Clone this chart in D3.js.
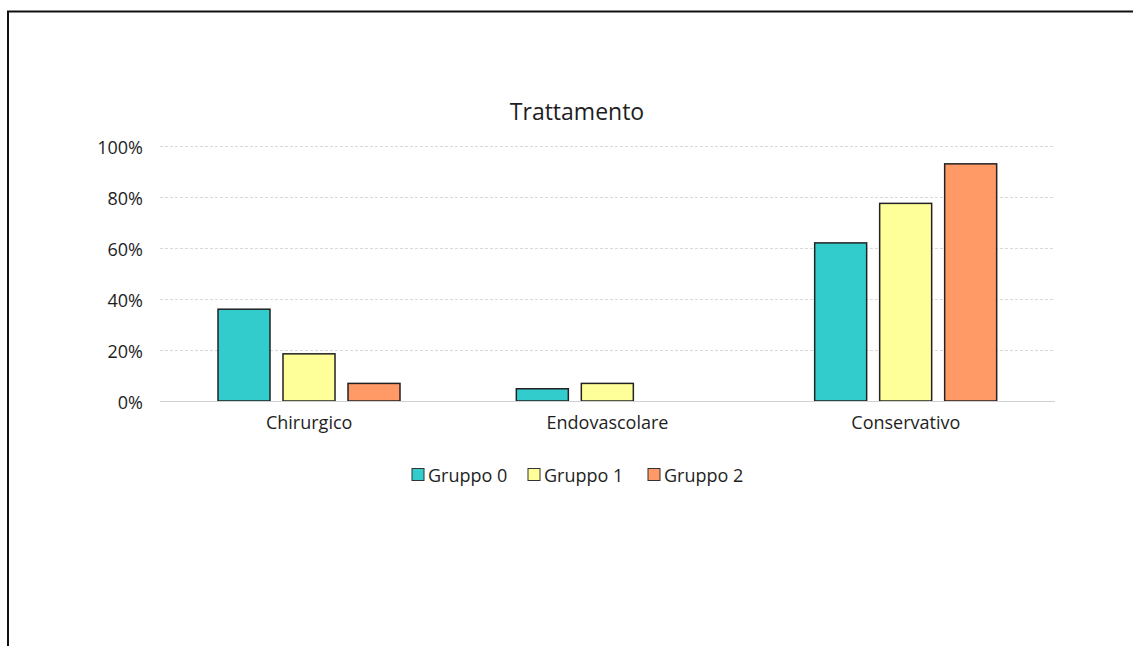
<!DOCTYPE html>
<html>
<head>
<meta charset="utf-8">
<script src="https://cdn.jsdelivr.net/npm/d3@7"></script>
<style>
  html, body { margin: 0; padding: 0; background: #fff; }
  svg { display: block; font-family: "Open Sans", Lato, sans-serif; }
</style>
</head>
<body>
<svg id="chart" width="1133" height="646"></svg>
<script>
// Treatment share per group
const categories = ["Chirurgico", "Endovascolare", "Conservativo"];
const seriesNames = ["Gruppo 0", "Gruppo 1", "Gruppo 2"];
const gruppo0 = [0.36, 0.048, 0.62];
const gruppo1 = [0.185, 0.069, 0.775];
const gruppo2 = [0.069, 0, 0.93];
const yTicks = [0, 0.2, 0.4, 0.6, 0.8, 1.0];
const colors = ["#33CCCC", "#FFFF99", "#FF9966"];

const seriesValues = [gruppo0, gruppo1, gruppo2];

const svg = d3.select("#chart");
const textColor = "#1e1e1e";
const font = "'Open Sans', sans-serif";

// Frame lines along the top and left edges
svg.append("path")
  .attr("d", "M8,646 L8,11.5 L1133,11.5")
  .attr("fill", "none")
  .attr("stroke", "#111")
  .attr("stroke-width", 2);

const plotLeft = 160, plotRight = 1055, plotTop = 146, plotBottom = 401;

const y = d3.scaleLinear().domain([0, 1]).range([plotBottom, plotTop]);
const x0 = d3.scaleBand().domain(categories).range([plotLeft, plotRight]);
const x1 = d3.scaleBand().domain(seriesNames).range([58, 240]).paddingInner(0.2);

// Title
svg.append("text")
  .attr("x", 577)
  .attr("y", 120)
  .attr("text-anchor", "middle")
  .attr("font-size", 23)
  .attr("fill", textColor)
  .text("Trattamento");

// Horizontal gridlines
svg.append("g")
  .selectAll("line")
  .data(yTicks.filter(d => d > 0))
  .join("line")
  .attr("x1", plotLeft).attr("x2", plotRight)
  .attr("y1", d => Math.round(y(d)) + 0.5)
  .attr("y2", d => Math.round(y(d)) + 0.5)
  .attr("stroke", "#d9d9d9")
  .attr("stroke-width", 1)
  .attr("stroke-dasharray", "3,2");

// Y axis labels
const yAxis = d3.axisLeft(y).tickValues(yTicks).tickFormat(d3.format(".0%")).tickSize(0).tickPadding(0);
const gy = svg.append("g").attr("transform", `translate(${plotLeft - 17},2)`).call(yAxis);
gy.select(".domain").remove();
gy.selectAll("text").attr("font-size", 18).attr("fill", textColor).attr("font-family", font);

// Bars
const groups = svg.append("g")
  .selectAll("g")
  .data(categories)
  .join("g")
  .attr("transform", c => `translate(${x0(c)},0)`);

groups.selectAll("rect")
  .data((c, i) => seriesNames.map((s, k) => ({ s, k, v: seriesValues[k][i] })).filter(d => d.v > 0))
  .join("rect")
  .attr("x", d => x1(d.s))
  .attr("y", d => y(d.v))
  .attr("width", x1.bandwidth())
  .attr("height", d => y(0) - y(d.v))
  .attr("fill", d => colors[d.k])
  .attr("stroke", "#222")
  .attr("stroke-width", 1.5);

// Baseline
svg.append("line")
  .attr("x1", plotLeft).attr("x2", plotRight)
  .attr("y1", plotBottom + 0.5).attr("y2", plotBottom + 0.5)
  .attr("stroke", "#d0d0d0");

// X axis labels
const xAxis = d3.axisBottom(x0).tickSize(0).tickPadding(0);
const gx = svg.append("g").attr("transform", `translate(0,${plotBottom + 15})`).call(xAxis);
gx.select(".domain").remove();
gx.selectAll("text").attr("font-size", 18).attr("fill", textColor).attr("font-family", font);

// Legend
const legendX = [412, 528, 648];
const legend = svg.append("g")
  .selectAll("g")
  .data(seriesNames)
  .join("g")
  .attr("transform", (d, i) => `translate(${legendX[i]},468.5)`);
legend.append("rect")
  .attr("width", 12).attr("height", 12)
  .attr("fill", (d, i) => colors[i])
  .attr("stroke", "#333").attr("stroke-width", 1);
legend.append("text")
  .attr("x", 16).attr("y", 13)
  .attr("font-size", 18).attr("fill", textColor)
  .text(d => d);
</script>
</body>
</html>
